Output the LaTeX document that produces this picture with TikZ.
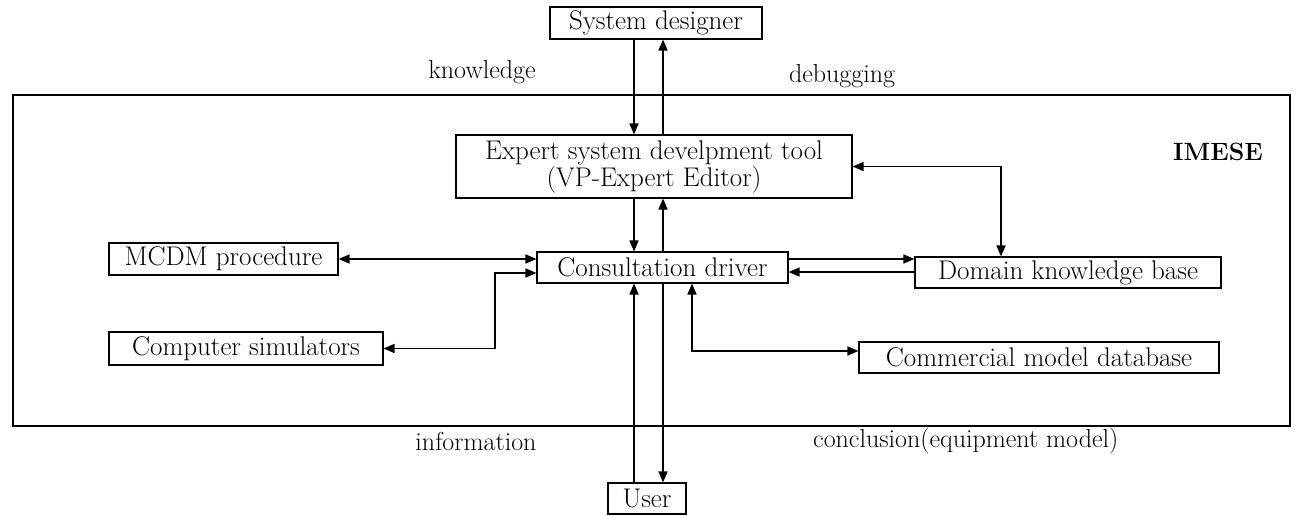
\documentclass[tikz,border=0pt]{standalone}
\usetikzlibrary{arrows.meta}
\begin{document}
\begin{tikzpicture}[x=1pt,y=-1pt,
  box/.style={draw, line width=1.1pt, inner sep=0pt, font=\fontsize{27}{27}\selectfont, align=center},
  lbl/.style={inner sep=0pt, font=\fontsize{26}{28}\selectfont},
  conn/.style={line width=1.6pt, -{Triangle[length=11pt,width=9pt]}},
  conn2/.style={line width=1.6pt, {Triangle[length=11pt,width=9pt]}-{Triangle[length=11pt,width=9pt]}}]
\useasboundingbox (0,0) rectangle (1298,515);
% outer IMESE frame
\draw[line width=1.1pt] (13,95) rectangle (1290,426);
\node[lbl, font=\fontsize{25}{27}\selectfont\bfseries] (imese) at (1218,152) {IMESE};
% boxes
\node[box, minimum width=212pt, minimum height=32pt] (sd) at (656,23) {System designer};
\node[box, minimum width=396pt, minimum height=63pt] (est) at (654,166.5) {Expert system develpment tool\\(VP-Expert Editor)};
\node[box, minimum width=251pt, minimum height=31pt] (cd) at (662.5,267.5) {Consultation driver};
\node[box, minimum width=306pt, minimum height=31pt] (dkb) at (1068,272.5) {Domain knowledge base};
\node[box, minimum width=229pt, minimum height=32pt] (mcdm) at (223.5,259) {MCDM procedure};
\node[box, minimum width=274pt, minimum height=33pt] (cs) at (246,348.5) {Computer simulators};
\node[box, minimum width=360pt, minimum height=31pt] (cmd) at (1039,357.5) {Commercial model database};
\node[box, minimum width=78pt, minimum height=31pt] (user) at (647,498.5) {User};
% labels
\node[lbl] (lk) at (482,72) {knowledge};
\node[lbl] (ld) at (842,76) {debugging};
\node[lbl] (li) at (476,441) {information};
\node[lbl, anchor=west] (lc) at (813,441) {conclusion(equipment model)};
% helper coordinates
\coordinate (v1) at (634,0);
\coordinate (v2) at (663,0);
\coordinate (kx) at (1001,0);
\coordinate (bx) at (495,0);
\coordinate (cy) at (0,273);
\coordinate (u1) at (0,259);
\coordinate (u2) at (0,272);
\coordinate (cx) at (692,0);
\coordinate (cm) at (0,351);
% vertical arrows
\draw[conn] (sd.south -| v1) -- (est.north -| v1);
\draw[conn] (est.north -| v2) -- (sd.south -| v2);
\draw[conn] (est.south -| v1) -- (cd.north -| v1);
\draw[conn] (cd.north -| v2) -- (est.south -| v2);
\draw[conn] (user.north -| v1) -- (cd.south -| v1);
\draw[conn] (cd.south -| v2) -- (user.north -| v2);
% expert <-> domain
\draw[conn2] (est.east) -| (kx |- dkb.north);
% consultation <-> domain
\draw[conn] (cd.east |- u1) -- (dkb.west |- u1);
\draw[conn] (dkb.west |- u2) -- (cd.east |- u2);
% MCDM <-> consultation
\draw[conn2] (mcdm.east) -- (cd.west |- mcdm.east);
% simulators <-> consultation
\draw[conn2] (cs.east) -| (bx |- cy) -- (cd.west |- cy);
% consultation <-> commercial
\draw[conn2] (cd.south -| cx) |- (cmd.west |- cm);
\end{tikzpicture}
\end{document}
